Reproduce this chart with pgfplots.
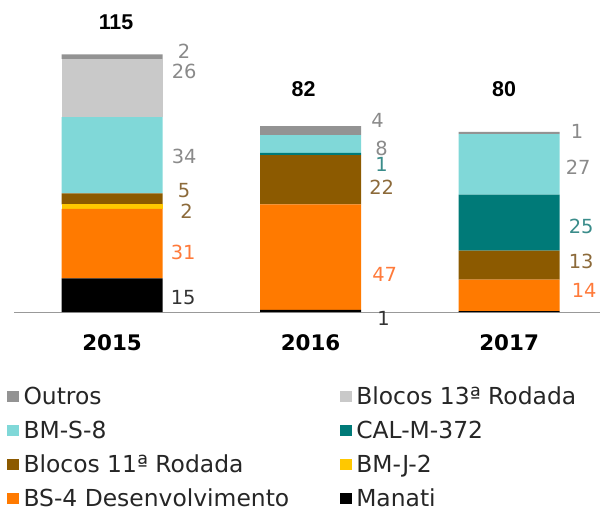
\documentclass[border=0pt]{standalone}
\usepackage{pgfplots}
\pgfplotsset{compat=1.18}
\usepackage{pgfplotstable}
\usepackage{fontspec}
\setmainfont{DejaVu Sans}
\newfontfamily\totfont{Liberation Sans}
\definecolor{cOutros}{HTML}{939393}
\definecolor{cB13}{HTML}{C9C9C9}
\definecolor{cBMS8}{HTML}{80D8D8}
\definecolor{cCAL}{HTML}{007A78}
\definecolor{cB11}{HTML}{8C5A00}
\definecolor{cBMJ2}{HTML}{FFC800}
\definecolor{cBS4}{HTML}{FF7A00}
\definecolor{cManati}{HTML}{000000}
\definecolor{lGray}{HTML}{8A8A8A}
\definecolor{lTeal}{HTML}{3A8C8A}
\definecolor{lBrown}{HTML}{8C6A3A}
\definecolor{lOrange}{HTML}{FF7A3A}
\definecolor{lDark}{HTML}{333333}
\pgfplotstableread{
x Manati BS4 BMJ2 B11 CAL BMS8 B13 Outros
0 15 31 2 5 0 34 26 2
1 1 47 0 22 1 8 0 4
2 0.4 14 0 13 25 27 0 1
}\datatable
\newcommand{\vfont}{\fontsize{19.5}{22}\selectfont}
\newcommand{\tfont}{\totfont\bfseries\fontsize{21.5}{24}\selectfont}
\begin{document}
\begin{tikzpicture}
\begin{axis}[
  name=ax,
  scale only axis,
  width=586bp, height=291.2bp,
  xmin=-0.494, xmax=2.458,
  ymin=0, ymax=130,
  ybar stacked,
  bar width=101bp,
  axis x line*=bottom,
  axis y line=none,
  x axis line style={color=black!40, line width=1bp},
  xtick={0,1,2},
  xticklabels={2015,2016,2017},
  major tick length=0pt,
  xticklabel style={anchor=base, yshift=-38bp, font=\fontsize{21.5}{24}\selectfont\bfseries},
  ytick=\empty,
  clip=false,
  legend columns=2,
  reverse legend,
  legend cell align=left,
  legend image code/.code={\fill[#1] (0bp,2.5bp) rectangle (12bp,13.5bp);},
  legend style={at={(axis description cs:0,0)}, anchor=north west, xshift=-7bp, yshift=-75bp,
    draw=none, fill=none, inner sep=0pt, outer sep=0pt,
    font=\fontsize{23.5}{26}\selectfont, text=black!85,
    cells={anchor=base west},
    nodes={inner xsep=4.5bp, inner ysep=0bp, text height=17bp, text depth=0bp},
    row sep=17bp,
    /tikz/every even column/.append style={column sep=46bp}},
]
\addplot[fill=cManati, draw=none] table[x=x, y=Manati] {\datatable};
\addlegendentry{Manati}
\addplot[fill=cBS4, draw=none] table[x=x, y=BS4] {\datatable};
\addlegendentry{BS-4 Desenvolvimento}
\addplot[fill=cBMJ2, draw=none] table[x=x, y=BMJ2] {\datatable};
\addlegendentry{BM-J-2}
\addplot[fill=cB11, draw=none] table[x=x, y=B11] {\datatable};
\addlegendentry{Blocos 11ª Rodada}
\addplot[fill=cCAL, draw=none] table[x=x, y=CAL] {\datatable};
\addlegendentry{CAL-M-372}
\addplot[fill=cBMS8, draw=none] table[x=x, y=BMS8] {\datatable};
\addlegendentry{BM-S-8}
\addplot[fill=cB13, draw=none] table[x=x, y=B13] {\datatable};
\addlegendentry{Blocos 13ª Rodada}
\addplot[fill=cOutros, draw=none] table[x=x, y=Outros] {\datatable};
\addlegendentry{Outros}
% totals
\node[font=\tfont] at (axis cs:0.02,129.5) {115};
\node[font=\tfont] at (axis cs:0.965,99.6) {82};
\node[font=\tfont] at (axis cs:1.975,99.6) {80};
% 2015 values
\node[font=\vfont, text=lGray] at (axis cs:0.363,116.5) {2};
\node[font=\vfont, text=lGray] at (axis cs:0.363,107.6) {26};
\node[font=\vfont, text=lGray] at (axis cs:0.363,69.6) {34};
\node[font=\vfont, text=lBrown] at (axis cs:0.363,54) {5};
\node[font=\vfont, text=lBrown] at (axis cs:0.375,45) {2};
\node[font=\vfont, text=lOrange] at (axis cs:0.358,26.8) {31};
\node[font=\vfont, text=lDark] at (axis cs:0.358,6.25) {15};
% 2016 values
\node[font=\vfont, text=lGray] at (axis cs:1.338,85.7) {4};
\node[font=\vfont, text=lGray] at (axis cs:1.358,73.2) {8};
\node[font=\vfont, text=lTeal] at (axis cs:1.358,66) {1};
\node[font=\vfont, text=lBrown] at (axis cs:1.358,55.8) {22};
\node[font=\vfont, text=lOrange] at (axis cs:1.373,17) {47};
\node[font=\vfont, text=lDark] at (axis cs:1.368,-2.7) {1};
% 2017 values
\node[font=\vfont, text=lGray] at (axis cs:2.343,80.8) {1};
\node[font=\vfont, text=lGray] at (axis cs:2.348,64.7) {27};
\node[font=\vfont, text=lTeal] at (axis cs:2.363,38.4) {25};
\node[font=\vfont, text=lBrown] at (axis cs:2.363,22.8) {13};
\node[font=\vfont, text=lOrange] at (axis cs:2.378,9.8) {14};
\end{axis}
\pgfresetboundingbox
\path ([xshift=-14bp,yshift=-199bp]ax.south west) rectangle ([yshift=20.8bp]ax.north east);
\end{tikzpicture}
\end{document}
